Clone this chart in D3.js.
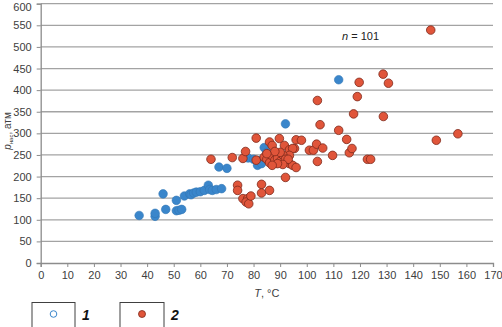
<!DOCTYPE html>
<html><head><meta charset="utf-8">
<script src="https://cdn.jsdelivr.net/npm/d3@7/dist/d3.min.js"></script>
<style>body{margin:0;background:#fff}svg{display:block}</style>
</head><body><svg id="c" width="502" height="327"></svg>
<script>
const xTicks = d3.range(0, 171, 10);
const yTicks = d3.range(0, 601, 50);
const series1 = [[37,110],[43,108],[43,115],[46,160],[47,124],[51,145],[51,121],[52,122],[53,124],[54,155],[56,160],[56.5,158],[57.5,162],[58.5,164],[60,165],[61.5,168],[63,180],[63.5,170],[64.5,168],[66,170],[68,172],[67,222],[70,219],[78,243],[80,240],[81.5,226],[82.5,237],[84,267],[83,230],[85,256],[92,322],[112,424]];
const series2 = [[64,240],[72,244],[76,242],[77,258],[74,180],[74,168],[76,149],[77.8,149],[77.2,141],[78.2,137],[79,155],[83,182],[83,162],[86,168],[92,198],[81,289],[86,280],[87,272],[89.7,288],[91.6,272],[93.5,262],[95.4,265],[96,285],[98,284],[94.7,265],[101,261],[102.5,261],[103.7,275],[106,266],[109.7,249],[116,255],[117,265],[122.8,240],[124,240],[104,235],[93.5,230],[94.7,226],[96,221],[93.5,249],[104,376],[119,385],[117.6,345],[128.8,339],[105,320],[112,307],[115,286],[119.7,418],[130.7,416],[128.7,437],[146.6,539],[156.8,299],[148.7,284],[81,238],[84,245],[85,240],[86,232],[87,248],[88,238],[89,243],[90,235],[91,250],[92,240],[90,256],[88,258],[85,253],[93,240],[91,228],[89,230],[87,226]];
const legendLabels = ["1","2"];
const nLabel = "101";

const svg = d3.select("#c");
const x = d3.scaleLinear().domain([0,170]).range([40.7,493]);
const y = d3.scaleLinear().domain([0,600]).range([263,3.7]);
const font = "'Liberation Sans', Arial, sans-serif";

// gridlines
svg.append("g").selectAll("line").data(yTicks.filter(d=>d>0)).join("line")
  .attr("x1",x(0)).attr("x2",x(170)).attr("y1",d=>y(d)).attr("y2",d=>y(d))
  .attr("stroke","#a3a3a3").attr("stroke-width",1.3);

// axes
const xa = svg.append("g").attr("transform",`translate(0,${y(0)})`)
  .call(d3.axisBottom(x).tickValues(xTicks).tickSize(4).tickPadding(4).tickFormat(d3.format("d")));
const ya = svg.append("g").attr("transform",`translate(${x(0)},0)`)
  .call(d3.axisLeft(y).tickValues(yTicks).tickSize(4).tickPadding(5).tickFormat(d3.format("d")));
[xa,ya].forEach(a=>{
  a.selectAll("path").attr("stroke","#8c8c8c").attr("stroke-width",1.3);
  a.selectAll("line").attr("stroke","#8c8c8c");
  a.selectAll("text").attr("font-family",font).attr("font-size",11).attr("fill","#404040");
});
ya.selectAll(".tick text").filter(d=>d===600).attr("dy","0.6em");

// points
svg.append("g").selectAll("circle").data(series1).join("circle")
  .attr("cx",d=>x(d[0])).attr("cy",d=>y(d[1])).attr("r",4.3)
  .attr("fill","#3a86cb").attr("stroke","#3277b5").attr("stroke-width",0.6);
svg.append("g").selectAll("circle").data(series2).join("circle")
  .attr("cx",d=>x(d[0])).attr("cy",d=>y(d[1])).attr("r",4.3)
  .attr("fill","#e0553a").attr("stroke","#7d2a1c").attr("stroke-width",0.8);

// n label
const nt = svg.append("text").attr("x",342).attr("y",40).attr("font-family",font).attr("font-size",11).attr("fill","#222");
nt.append("tspan").attr("font-style","italic").text("n");
nt.append("tspan").text(" = "+nLabel);

// axis titles
const xt = svg.append("text").attr("x",(x(0)+x(170))/2).attr("y",297).attr("text-anchor","middle")
  .attr("font-family",font).attr("font-size",11).attr("fill","#404040");
xt.append("tspan").attr("font-style","italic").text("T");
xt.append("tspan").text(", °C");
const yt = svg.append("text").attr("transform","translate(11,131) rotate(-90)").attr("text-anchor","middle")
  .attr("font-family",font).attr("font-size",10).attr("fill","#404040");
yt.append("tspan").attr("font-style","italic").text("p");
yt.append("tspan").attr("font-size",6).attr("dy",2).text("нас");
yt.append("tspan").attr("dy",-2).text(", атм");

// legend
const lg = [{x0:32,x1:75,lbl:legendLabels[0],type:0},{x0:120,x1:164,lbl:legendLabels[1],type:1}];
lg.forEach(l=>{
  svg.append("rect").attr("x",l.x0).attr("y",302.5).attr("width",l.x1-l.x0).attr("height",30)
    .attr("fill","#fff").attr("stroke","#404040").attr("stroke-width",1);
  const cx=(l.x0+l.x1)/2, cy=314;
  if(l.type===0) svg.append("circle").attr("cx",cx).attr("cy",cy).attr("r",3.3).attr("fill","#fff").attr("stroke","#3a86cb").attr("stroke-width",1);
  else svg.append("circle").attr("cx",cx).attr("cy",cy).attr("r",3.5).attr("fill","#e0553a").attr("stroke","#7d2a1c").attr("stroke-width",0.8);
  svg.append("text").attr("x",l.x1+7).attr("y",320).attr("font-family",font).attr("font-size",14)
    .attr("font-weight","bold").attr("font-style","italic").attr("fill","#111").text(l.lbl);
});
</script></body></html>
